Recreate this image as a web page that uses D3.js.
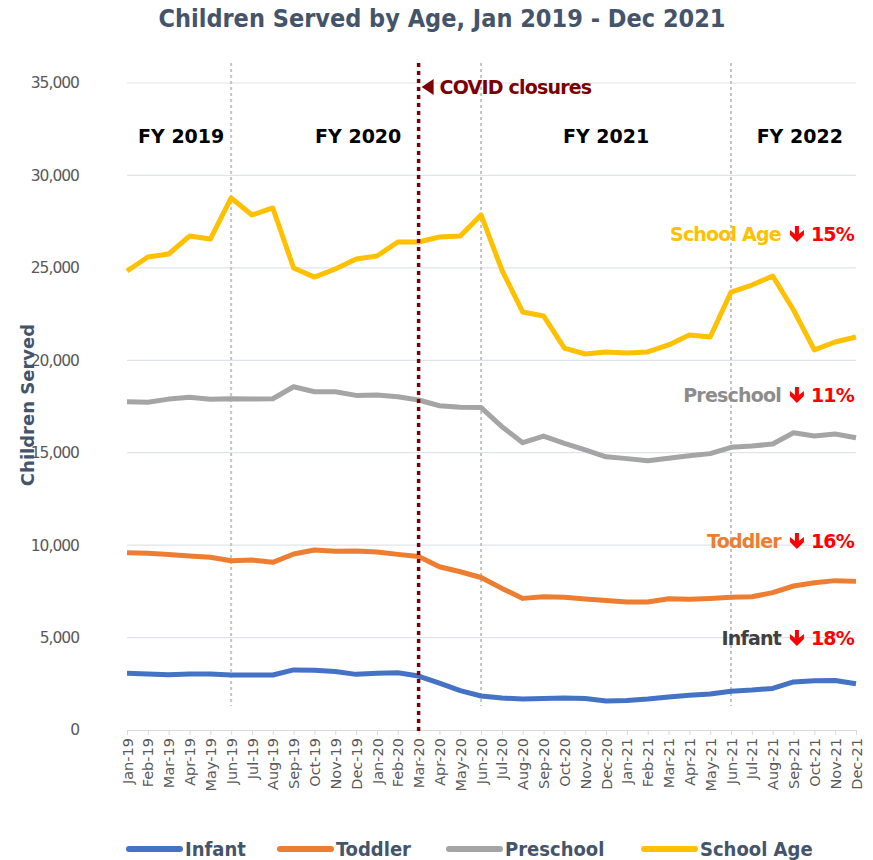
<!DOCTYPE html>
<html>
<head>
<meta charset="utf-8">
<script src="https://cdn.jsdelivr.net/npm/d3@7"></script>
<style>
  body { margin: 0; background: #fff; }
  svg { display: block; }
</style>
</head>
<body>
<div id="chart"></div>
<script>
// data
const months = ["Jan-19","Feb-19","Mar-19","Apr-19","May-19","Jun-19","Jul-19","Aug-19","Sep-19","Oct-19","Nov-19","Dec-19",
    "Jan-20","Feb-20","Mar-20","Apr-20","May-20","Jun-20","Jul-20","Aug-20","Sep-20","Oct-20","Nov-20","Dec-20",
    "Jan-21","Feb-21","Mar-21","Apr-21","May-21","Jun-21","Jul-21","Aug-21","Sep-21","Oct-21","Nov-21","Dec-21"];

const infant = [3070,3030,2990,3030,3030,2975,2975,2975,3250,3230,3160,3010,
    3070,3100,2920,2530,2130,1840,1730,1680,1700,1730,1700,1570,
    1600,1680,1790,1880,1950,2100,2160,2250,2600,2660,2680,2500];
const toddler = [9590,9560,9500,9410,9340,9160,9200,9070,9520,9740,9670,9680,
    9630,9500,9380,8830,8560,8250,7660,7120,7210,7180,7090,7000,
    6920,6920,7100,7070,7120,7180,7210,7430,7790,7970,8080,8040];
const preschool = [17760,17730,17900,18000,17890,17920,17900,17920,18570,18300,18300,18100,
    18120,18030,17850,17540,17460,17440,16410,15540,15900,15510,15150,14780,
    14680,14560,14700,14830,14950,15290,15360,15470,16080,15900,16010,15810];
const schoolAge = [24830,25590,25750,26720,26560,28780,27860,28240,24990,24500,24940,25480,
    25640,26400,26400,26670,26720,27860,24880,22610,22400,20660,20340,20450,
    20390,20450,20830,21370,21260,23690,24070,24560,22720,20560,20990,21260];

const seriesNames = ["Infant", "Toddler", "Preschool", "School Age"];
const seriesColors = ["#4472c4", "#ed7d31", "#a5a5a5", "#ffc000"];
const changeLabels = ["18%", "16%", "11%", "15%"];
const fyLabels = ["FY 2019", "FY 2020", "FY 2021", "FY 2022"];
const fyStarts = ["Jun-19", "Jun-20", "Jun-21"];
const covidMonth = "Mar-20";
const yTicks = [0, 5000, 10000, 15000, 20000, 25000, 30000, 35000];

const WIDTH = 873, HEIGHT = 860;
const FONT = "'DejaVu Sans Condensed', 'DejaVu Sans', sans-serif";
const WIDE = "'DejaVu Sans', sans-serif";

const svg = d3.select("#chart").append("svg")
    .attr("width", WIDTH)
    .attr("height", HEIGHT);

const x = d3.scalePoint().domain(months).range([127, 856]);
const y = d3.scaleLinear().domain([0, 35000]).range([730, 83]);

// title
svg.append("text")
    .attr("x", 442).attr("y", 27)
    .attr("text-anchor", "middle")
    .style("font-family", FONT).style("font-weight", "bold")
    .style("font-size", "25px").style("fill", "#44546a")
    .text("Children Served by Age, Jan 2019 - Dec 2021");

// gridlines
svg.append("g").selectAll("line")
    .data(yTicks.slice(1))
    .enter().append("line")
    .attr("x1", 127).attr("x2", 856)
    .attr("y1", d => y(d)).attr("y2", d => y(d))
    .attr("stroke", "#dfe3ea").attr("stroke-width", 1.2);

// y axis
const yAxis = svg.append("g")
    .attr("transform", "translate(79,0)")
    .call(d3.axisLeft(y).tickValues(yTicks).tickSize(0).tickPadding(0).tickFormat(d3.format(",")));
yAxis.select(".domain").remove();
yAxis.selectAll("text")
    .style("font-family", WIDE).style("font-size", "15.5px").style("fill", "#595959")
    .attr("letter-spacing", "-1px");

svg.append("text")
    .attr("transform", "translate(34,405) rotate(-90)")
    .attr("text-anchor", "middle")
    .style("font-family", WIDE).style("font-weight", "bold")
    .style("font-size", "18px").style("fill", "#44546a")
    .text("Children Served");

// x axis
const xAxis = svg.append("g")
    .attr("transform", "translate(0," + y(0) + ")")
    .call(d3.axisBottom(x).tickSize(5).tickSizeOuter(0).tickPadding(4));
xAxis.select(".domain").attr("stroke", "#d9d9d9");
xAxis.selectAll(".tick line").attr("stroke", "#d9d9d9");
xAxis.selectAll("text")
    .attr("transform", "rotate(-90)")
    .attr("text-anchor", "end")
    .attr("x", -8).attr("y", 0).attr("dy", "0.35em")
    .style("font-family", WIDE).style("font-size", "14.5px").style("fill", "#595959");

// fiscal year dividers
svg.append("g").selectAll("line")
    .data(fyStarts)
    .enter().append("line")
    .attr("x1", d => x(d)).attr("x2", d => x(d))
    .attr("y1", 63).attr("y2", 706)
    .attr("stroke", "#c4c4c4").attr("stroke-width", 2)
    .attr("stroke-dasharray", "3,3");

const fyPos = [2.6, 11.1, 23, 32.3];
svg.append("g").selectAll("text")
    .data(fyLabels)
    .enter().append("text")
    .attr("x", (d, i) => 127 + fyPos[i] * x.step())
    .attr("y", 143)
    .attr("text-anchor", "middle")
    .style("font-family", WIDE).style("font-weight", "bold")
    .style("font-size", "19px").style("fill", "#000")
    .text(d => d);

// lines
const allSeries = [infant, toddler, preschool, schoolAge];
const line = d3.line()
    .x((d, i) => x(months[i]))
    .y(d => y(d));

svg.append("g").selectAll("path")
    .data(allSeries)
    .enter().append("path")
    .attr("d", d => line(d))
    .attr("fill", "none")
    .attr("stroke", (d, i) => seriesColors[i])
    .attr("stroke-width", 5)
    .attr("stroke-linejoin", "round");

// COVID marker
svg.append("line")
    .attr("x1", x(covidMonth)).attr("x2", x(covidMonth))
    .attr("y1", 63).attr("y2", 732)
    .attr("stroke", "#7b0000").attr("stroke-width", 3.5)
    .attr("stroke-dasharray", "4,4");
const cx = x(covidMonth);
svg.append("path")
    .attr("d", "M" + (cx + 3) + ",87 L" + (cx + 15) + ",79 L" + (cx + 15) + ",95 Z")
    .attr("fill", "#7b0000");
svg.append("text")
    .attr("x", cx + 21).attr("y", 94)
    .style("font-family", WIDE).style("font-weight", "bold")
    .style("font-size", "19px").style("fill", "#7b0000")
    .attr("letter-spacing", "-0.8px")
    .text("COVID closures");

// change annotations, right aligned: "Name  [arrow] NN%"
const annY = [645, 548, 402, 241];
const annColors = ["#404040", "#ed7d31", "#8c8c8c", "#ffc000"];
seriesNames.forEach((name, i) => {
    const g = svg.append("g");
    const pct = g.append("text")
        .attr("x", 854).attr("y", annY[i])
        .attr("text-anchor", "end")
        .style("font-family", WIDE).style("font-weight", "bold")
        .style("font-size", "19px").style("fill", "#ff0000")
        .attr("letter-spacing", "-0.8px")
        .text(changeLabels[i]);
    const w = pct.node().getComputedTextLength();
    const ax = 854 - w - 14; // arrow centre
    const top = annY[i] - 15, bot = annY[i];
    g.append("path")
        .attr("d", "M" + (ax - 2) + "," + top + " L" + (ax + 2) + "," + top +
            " L" + (ax + 2) + "," + (bot - 7) + " L" + (ax + 7) + "," + (bot - 11) +
            " L" + (ax + 7) + "," + (bot - 6) + " L" + ax + "," + (bot + 1) +
            " L" + (ax - 7) + "," + (bot - 6) + " L" + (ax - 7) + "," + (bot - 11) +
            " L" + (ax - 2) + "," + (bot - 7) + " Z")
        .attr("fill", "#ff0000");
    g.append("text")
        .attr("x", ax - 16).attr("y", annY[i])
        .attr("text-anchor", "end")
        .style("font-family", WIDE).style("font-weight", "bold")
        .style("font-size", "19px").style("fill", annColors[i])
        .attr("letter-spacing", "-0.8px")
        .text(name);
});

// legend
const legX = [126, 277, 446, 641];
const leg = svg.append("g").selectAll("g")
    .data(seriesNames)
    .enter().append("g")
    .attr("transform", (d, i) => "translate(" + legX[i] + ",849)");
leg.append("line")
    .attr("x1", 3).attr("x2", 54)
    .attr("stroke", (d, i) => seriesColors[i])
    .attr("stroke-width", 6).attr("stroke-linecap", "round");
leg.append("text")
    .attr("x", 59).attr("y", 7)
    .style("font-family", FONT).style("font-weight", "bold")
    .style("font-size", "20px").style("fill", "#44546a")
    .text(d => d);
</script>
</body>
</html>
